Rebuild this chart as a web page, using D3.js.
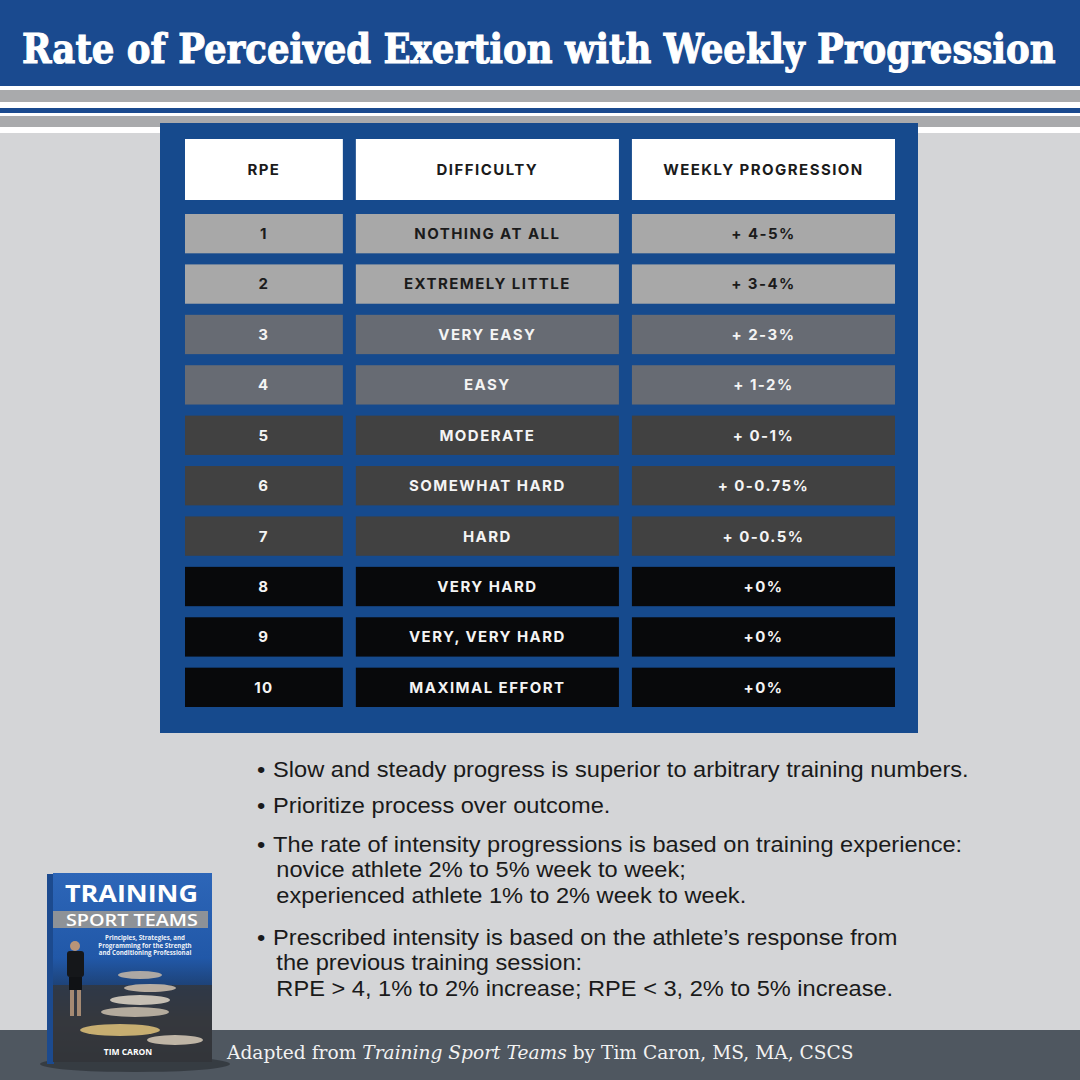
<!DOCTYPE html>
<html>
<head>
<meta charset="utf-8">
<script src="https://cdn.jsdelivr.net/npm/d3@7"></script>
<style>
  html, body { margin: 0; padding: 0; background: #d4d5d7; }
  svg { display: block; }
</style>
</head>
<body>
<svg id="container" width="1080" height="1080"></svg>
<script>
// Table content
var columns = ["RPE", "DIFFICULTY", "WEEKLY PROGRESSION"];
var rpeLevels = [1, 2, 3, 4, 5, 6, 7, 8, 9, 10];
var difficulty = ["NOTHING AT ALL", "EXTREMELY LITTLE", "VERY EASY", "EASY", "MODERATE",
    "SOMEWHAT HARD", "HARD", "VERY HARD", "VERY, VERY HARD", "MAXIMAL EFFORT"];
var progression = ["+ 4-5%", "+ 3-4%", "+ 2-3%", "+ 1-2%", "+ 0-1%",
    "+ 0-0.75%", "+ 0-0.5%", "+0%", "+0%", "+0%"];

// Notes under the table, one array of lines per bullet
var notes = [
    ["Slow and steady progress is superior to arbitrary training numbers."],
    ["Prioritize process over outcome."],
    ["The rate of intensity progressions is based on training experience:",
     "novice athlete 2% to 5% week to week;",
     "experienced athlete 1% to 2% week to week."],
    ["Prescribed intensity is based on the athlete\u2019s response from",
     "the previous training session:",
     "RPE > 4, 1% to 2% increase; RPE < 3, 2% to 5% increase."]
];

var title = "Rate of Perceived Exertion with Weekly Progression";
var source = ["Adapted from ", "Training Sport Teams", " by Tim Caron, MS, MA, CSCS"];

// Squeeze or stretch a text horizontally so that it spans the given width
function fitWidth(text, x, y, width)
{
    const natural = text.node().getComputedTextLength();
    text.attr("x", 0).attr("y", 0)
        .attr("transform", "translate(" + x + "," + y + ") scale(" + (width / natural) + ",1)");
}

function drawInfographic()
{
    const svg = d3.select('#container');
    const W = 1080, H = 1080;

    svg.append("rect").attr("width", W).attr("height", H).attr("fill", "#d4d5d7");

    // Title banner and stripes
    svg.append("rect").attr("width", W).attr("height", 86).attr("fill", "#1a4a8f");
    const stripes = [
        { y: 86, h: 4, c: "#ffffff" }, { y: 90, h: 12, c: "#a9aaac" },
        { y: 102, h: 6, c: "#ffffff" }, { y: 108, h: 5, c: "#1a4a8f" },
        { y: 113, h: 3, c: "#ffffff" }, { y: 116, h: 11, c: "#a9aaac" },
        { y: 127, h: 6, c: "#ffffff" }
    ];
    svg.append("g").selectAll("rect").data(stripes).join("rect")
        .attr("x", 0).attr("y", d => d.y).attr("width", W).attr("height", d => d.h)
        .attr("fill", d => d.c);

    const titleText = svg.append("text")
        .attr("font-family", "'DejaVu Serif', serif").attr("font-weight", "bold")
        .attr("font-size", 41).attr("fill", "#ffffff")
        .attr("stroke", "#ffffff").attr("stroke-width", 1.1)
        .text(title);
    fitWidth(titleText, 22, 63, 1034);

    // Table frame
    svg.append("rect").attr("x", 160).attr("y", 123).attr("width", 758).attr("height", 610)
        .attr("fill", "#164a8d");

    const gap = 13;
    const colWeights = [3, 5, 5];
    const unitX = d3.scaleLinear().domain([0, d3.sum(colWeights)]).range([185, 895 - gap * (columns.length - 1)]);
    const colStart = d3.cumsum([0].concat(colWeights));
    const colX = i => unitX(colStart[i]) + i * gap;
    const colW = i => unitX(colStart[i + 1]) - unitX(colStart[i]);

    const rowY = d3.scaleBand().domain(rpeLevels).range([214, 707]).paddingInner(0.22);
    const fill = d3.scaleThreshold().domain([3, 5, 8])
        .range(["#a8a8a8", "#676b73", "#414141", "#08090b"]);
    const ink = d3.scaleThreshold().domain([3]).range(["#1b1b1b", "#f4f4f4"]);

    const textStyle = sel => sel
        .attr("text-anchor", "middle").attr("dy", "0.36em")
        .attr("font-family", "Inter, 'Open Sans', sans-serif").attr("font-weight", 700)
        .attr("font-size", 15).attr("letter-spacing", 1.45);

    // Header row
    const header = svg.append("g").selectAll("g").data(columns).join("g");
    header.append("rect")
        .attr("x", (d, i) => colX(i)).attr("y", 139).attr("width", (d, i) => colW(i)).attr("height", 61)
        .attr("fill", "#ffffff");
    header.append("text")
        .attr("x", (d, i) => colX(i) + colW(i) / 2).attr("y", 169.5)
        .call(textStyle).attr("fill", "#1b1b1b")
        .text(d => d);

    // Body rows
    const rows = rpeLevels.map((r, i) => [String(r), difficulty[i], progression[i]]);
    const rowG = svg.append("g").selectAll("g").data(rows).join("g")
        .attr("transform", (d, i) => "translate(0," + rowY(rpeLevels[i]) + ")");
    rowG.each(function(cells, ri)
    {
        const level = rpeLevels[ri];
        const g = d3.select(this);
        g.selectAll("rect").data(cells).join("rect")
            .attr("x", (d, i) => colX(i)).attr("width", (d, i) => colW(i))
            .attr("height", rowY.bandwidth()).attr("fill", fill(level));
        g.selectAll("text").data(cells).join("text")
            .attr("x", (d, i) => colX(i) + colW(i) / 2).attr("y", rowY.bandwidth() / 2)
            .call(textStyle).attr("fill", ink(level))
            .text(d => d);
    });

    // Notes, slightly widened like the original typeface
    const noteG = svg.append("g")
        .attr("transform", "translate(257,0) scale(1.074,1)")
        .attr("font-family", "'Liberation Sans', Arial, sans-serif").attr("font-size", 22)
        .attr("fill", "#1a1a1a");
    const noteTop = [777, 813, 852, 945];
    const lineStep = 25.3;
    notes.forEach((lines, ni) =>
    {
        noteG.append("text").attr("x", 0).attr("y", noteTop[ni]).text("\u2022");
        lines.forEach((line, li) =>
        {
            noteG.append("text")
                .attr("x", li === 0 ? 15 : 18)
                .attr("y", noteTop[ni] + li * lineStep)
                .text(line);
        });
    });

    // Footer
    svg.append("rect").attr("x", 0).attr("y", 1030).attr("width", W).attr("height", 50).attr("fill", "#4f5760");
    const foot = svg.append("text")
        .attr("font-family", "'DejaVu Serif', serif").attr("font-size", 19)
        .attr("fill", "#f2f2f2");
    source.forEach((part, i) =>
    {
        foot.append("tspan").attr("font-style", i === 1 ? "italic" : "normal").text(part);
    });
    fitWidth(foot, 227, 1059, 627);

    drawBook(svg);
}

// Small book cover in the lower left corner
function drawBook(svg)
{
    const defs = svg.append("defs");
    const top = defs.append("linearGradient").attr("id", "coverTop").attr("x1", 0).attr("y1", 0).attr("x2", 0).attr("y2", 1);
    top.append("stop").attr("offset", 0).attr("stop-color", "#2d66b8");
    top.append("stop").attr("offset", 0.45).attr("stop-color", "#2158a8");
    top.append("stop").attr("offset", 0.62).attr("stop-color", "#1d3f70");
    top.append("stop").attr("offset", 0.78).attr("stop-color", "#3b3e44");
    top.append("stop").attr("offset", 1).attr("stop-color", "#2c2e32");

    const g = svg.append("g");
    g.append("ellipse").attr("cx", 135).attr("cy", 1064).attr("rx", 95).attr("ry", 8)
        .attr("fill", "#2c3136").attr("opacity", 0.7);
    g.append("rect").attr("x", 47).attr("y", 874).attr("width", 7).attr("height", 190).attr("fill", "#1c4a8e");
    g.append("rect").attr("x", 53).attr("y", 873).attr("width", 159).attr("height", 189).attr("fill", "url(#coverTop)");

    // floor and athletes, rough shapes
    g.append("rect").attr("x", 53).attr("y", 985).attr("width", 159).attr("height", 77).attr("fill", "#34373c").attr("opacity", 0.8);
    const bodies = [
        [140, 975, 22, 4, "#c7b9a8"], [150, 988, 26, 4, "#d0c2b0"], [140, 1000, 30, 5, "#e1d7c8"],
        [135, 1012, 34, 5, "#cbbfae"], [120, 1030, 40, 6, "#e0c37a"], [175, 1040, 28, 5, "#d8cbb8"]
    ];
    g.selectAll("ellipse.body").data(bodies).join("ellipse").attr("class", "body")
        .attr("cx", d => d[0]).attr("cy", d => d[1]).attr("rx", d => d[2]).attr("ry", d => d[3])
        .attr("fill", d => d[4]).attr("opacity", 0.85);
    // coach standing at the left
    g.append("circle").attr("cx", 75).attr("cy", 946).attr("r", 5).attr("fill", "#b89478");
    g.append("rect").attr("x", 67).attr("y", 951).attr("width", 17).attr("height", 26).attr("rx", 3).attr("fill", "#15171a");
    g.append("rect").attr("x", 69).attr("y", 977).attr("width", 13).attr("height", 13).attr("fill", "#101215");
    g.append("rect").attr("x", 70).attr("y", 990).attr("width", 4).attr("height", 26).attr("fill", "#a58a73");
    g.append("rect").attr("x", 77).attr("y", 990).attr("width", 4).attr("height", 26).attr("fill", "#a58a73");

    g.append("rect").attr("x", 53).attr("y", 911).attr("width", 155).attr("height", 17).attr("fill", "#8e9297");
    const t1 = g.append("text")
        .attr("font-family", "'Open Sans', sans-serif").attr("font-weight", 700).attr("font-size", 23)
        .attr("fill", "#ffffff").text("TRAINING");
    fitWidth(t1, 65, 902, 133);
    const t2 = g.append("text")
        .attr("font-family", "'Open Sans', sans-serif").attr("font-weight", 600).attr("font-size", 16)
        .attr("fill", "#ffffff").text("SPORT TEAMS");
    fitWidth(t2, 66, 926, 132);
    const sub = ["Principles, Strategies, and", "Programming for the Strength", "and Conditioning Professional"];
    g.selectAll("text.sub").data(sub).join("text").attr("class", "sub")
        .attr("x", 145).attr("y", (d, i) => 940 + i * 7.5)
        .attr("text-anchor", "middle")
        .attr("font-family", "'Open Sans', sans-serif").attr("font-weight", 700).attr("font-size", 6.2)
        .attr("fill", "#eef2f8").text(d => d);
    g.append("text").attr("x", 128).attr("y", 1055).attr("text-anchor", "middle")
        .attr("font-family", "'Open Sans', sans-serif").attr("font-weight", 700).attr("font-size", 8.5)
        .attr("fill", "#ffffff").text("TIM CARON");
}

drawInfographic();
</script>
</body>
</html>
